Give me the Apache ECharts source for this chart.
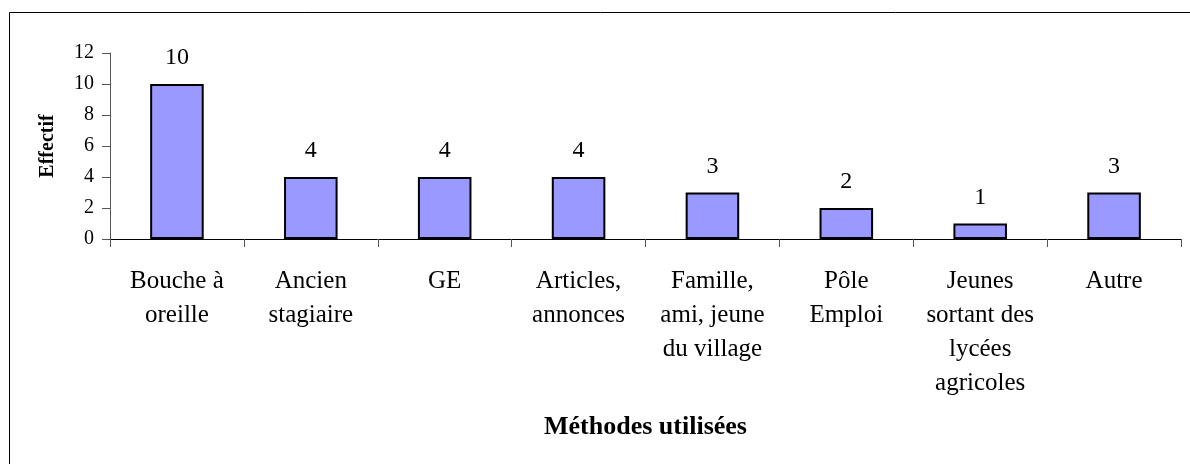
<!DOCTYPE html>
<html lang="fr">
<head>
    <meta charset="UTF-8">
    <title>Méthodes utilisées</title>
    <script src="https://cdn.jsdelivr.net/npm/echarts/dist/echarts.min.js"></script>
    <style>
        html, body { margin: 0; padding: 0; background: #fff; }
        #chart { width: 1190px; height: 464px; }
    </style>
</head>
<body>
    <div id="chart"></div>
    <script>
        // categories (line breaks as in the original)
        const categories = [
            'Bouche à\noreille',
            'Ancien\nstagiaire',
            'GE',
            'Articles,\nannonces',
            'Famille,\nami, jeune\ndu village',
            'Pôle\nEmploi',
            'Jeunes\nsortant des\nlycées\nagricoles',
            'Autre'
        ];
        const effectif = [10, 4, 4, 4, 3, 2, 1, 3];
        const yMin = 0, yMax = 12, yStep = 2;

        const serif = '"Liberation Serif", "Times New Roman", serif';

        let chart = echarts.init(document.getElementById('chart'));
        let option = {
            animation: false,
            backgroundColor: '#fff',
            // frame of the original picture (top and left edges visible)
            graphic: [{
                type: 'rect',
                shape: { x: 9.5, y: 12.5, width: 1300, height: 600 },
                style: { fill: 'none', stroke: '#000', lineWidth: 1 },
                silent: true
            }],
            grid: { left: 110, right: 9, top: 53, bottom: 225 },
            xAxis: {
                type: 'category',
                data: categories,
                name: 'Méthodes utilisées',
                nameLocation: 'middle',
                nameGap: 175,
                nameTextStyle: { fontFamily: serif, fontSize: 26, fontWeight: 'bold', color: '#000', lineHeight: 26 },
                axisLine: { lineStyle: { color: '#000', width: 1 } },
                axisTick: { show: true, length: 8, lineStyle: { color: '#555' } },
                axisLabel: {
                    interval: 0,
                    margin: 25,
                    fontFamily: serif,
                    fontSize: 25,
                    lineHeight: 34,
                    color: '#000',
                    verticalAlign: 'top'
                },
                splitLine: { show: false }
            },
            yAxis: {
                type: 'value',
                min: yMin,
                max: yMax,
                interval: yStep,
                name: 'Effectif',
                nameLocation: 'middle',
                nameRotate: 90,
                nameGap: 52,
                nameTextStyle: { fontFamily: serif, fontSize: 20, fontWeight: 'bold', color: '#000', lineHeight: 20 },
                axisLine: { show: true, lineStyle: { color: '#555', width: 1 } },
                axisTick: { show: true, length: 8, lineStyle: { color: '#555' } },
                axisLabel: { margin: 16, fontFamily: serif, fontSize: 20, color: '#000' },
                splitLine: { show: false }
            },
            series: [{
                name: 'Effectif',
                type: 'bar',
                data: effectif,
                barWidth: '40%',
                itemStyle: { color: '#9999ff', borderColor: '#000', borderWidth: 2 },
                label: {
                    show: true,
                    position: 'top',
                    distance: 14,
                    fontFamily: serif,
                    fontSize: 24,
                    color: '#000'
                }
            }]
        };
        chart.setOption(option);
    </script>
</body>
</html>
